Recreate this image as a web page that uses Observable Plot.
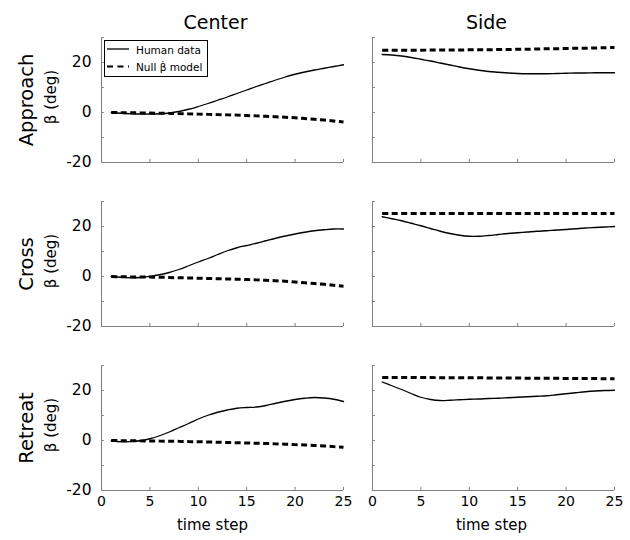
<!DOCTYPE html>
<html><head><meta charset="utf-8">
<script src="https://cdn.jsdelivr.net/npm/d3@7"></script>
<script src="https://cdn.jsdelivr.net/npm/@observablehq/plot@0.6"></script>
<style>
body{margin:0;background:#fff;}
#wrap{position:relative;width:630px;height:540px;font-family:"DejaVu Sans",sans-serif;}
#legend{position:absolute;left:104px;top:40px;}
</style></head>
<body><div id="wrap"></div>
<script>
// ---- data ----
const columns = ["Center", "Side"];
const rows = ["Approach", "Cross", "Retreat"];
const timeSteps = [1,2,3,4,5,6,7,8,9,10,11,12,13,14,15,16,17,18,19,20,21,22,23,24,25];
const xTickValues = [0,5,10,15,20,25];
const yTickValues = [-10,0,10,20,30];
const yLabelValues = [-20,0,20];
const xDomain = [0,25];
const yDomain = [-20,30];

const approachCenterHuman = [0,-0.3,-0.5,-0.6,-0.6,-0.5,-0.2,0.4,1.3,2.4,3.6,4.9,6.2,7.6,9.0,10.4,11.7,13.0,14.2,15.3,16.2,17.0,17.7,18.4,19.1];
const approachCenterNull  = [0,-0.05,-0.1,-0.15,-0.2,-0.3,-0.35,-0.45,-0.55,-0.65,-0.75,-0.85,-0.95,-1.05,-1.2,-1.35,-1.5,-1.7,-1.9,-2.1,-2.4,-2.7,-3.0,-3.4,-3.8];
const approachSideHuman   = [23.2,23.0,22.6,22.0,21.3,20.6,19.8,19.0,18.2,17.5,16.9,16.4,16.1,15.8,15.6,15.5,15.5,15.5,15.6,15.7,15.8,15.8,15.9,15.9,15.9];
const approachSideNull    = [24.9,24.9,24.9,24.9,24.9,25.0,25.0,25.0,25.0,25.1,25.1,25.1,25.2,25.2,25.3,25.3,25.4,25.5,25.5,25.6,25.7,25.7,25.8,25.9,26.0];
const crossCenterHuman    = [0,-0.3,-0.5,-0.4,0.1,0.7,1.6,2.8,4.3,5.8,7.2,8.8,10.3,11.5,12.4,13.3,14.3,15.3,16.2,17.0,17.7,18.3,18.7,19.0,19.0];
const crossCenterNull     = [0,-0.1,-0.15,-0.2,-0.25,-0.3,-0.4,-0.5,-0.6,-0.7,-0.8,-0.9,-1.0,-1.1,-1.2,-1.35,-1.5,-1.7,-1.9,-2.2,-2.5,-2.8,-3.1,-3.5,-3.9];
const crossSideHuman      = [23.9,23.1,22.3,21.3,20.3,19.2,18.1,17.2,16.5,16.1,16.1,16.4,16.8,17.2,17.5,17.8,18.1,18.3,18.6,18.8,19.1,19.4,19.6,19.8,20.0];
const crossSideNull       = [25.2,25.2,25.2,25.2,25.2,25.2,25.2,25.2,25.2,25.2,25.2,25.2,25.2,25.2,25.2,25.2,25.2,25.2,25.2,25.2,25.2,25.2,25.2,25.2,25.2];
const retreatCenterHuman  = [-0.1,-0.5,-0.4,-0.1,0.7,1.9,3.4,5.1,6.8,8.6,10.1,11.3,12.2,12.9,13.2,13.4,14.0,14.9,15.7,16.4,16.9,17.2,17.0,16.5,15.6];
const retreatCenterNull   = [0,-0.05,-0.1,-0.15,-0.2,-0.25,-0.3,-0.35,-0.45,-0.5,-0.6,-0.7,-0.8,-0.9,-1.0,-1.1,-1.2,-1.35,-1.5,-1.65,-1.8,-2.0,-2.2,-2.45,-2.7];
const retreatSideHuman    = [23.4,21.9,20.4,18.8,17.3,16.4,16.0,16.1,16.3,16.5,16.6,16.8,16.9,17.1,17.3,17.5,17.7,17.9,18.3,18.7,19.1,19.5,19.8,20.0,20.1];
const retreatSideNull     = [25.2,25.2,25.2,25.2,25.2,25.2,25.1,25.1,25.1,25.1,25.1,25.0,25.0,25.0,25.0,24.9,24.9,24.9,24.9,24.8,24.8,24.8,24.8,24.7,24.7];

const seriesTable = [
  ["Approach","Center",approachCenterHuman,approachCenterNull],
  ["Approach","Side",approachSideHuman,approachSideNull],
  ["Cross","Center",crossCenterHuman,crossCenterNull],
  ["Cross","Side",crossSideHuman,crossSideNull],
  ["Retreat","Center",retreatCenterHuman,retreatCenterNull],
  ["Retreat","Side",retreatSideHuman,retreatSideNull]
];
const humanData = [], nullData = [];
for (const [row, col, hum, nul] of seriesTable) {
  timeSteps.forEach((t, i) => {
    humanData.push({row, col, t, v: hum[i]});
    nullData.push({row, col, t, v: nul[i]});
  });
}

// ---- layout ----
const W = 630, H = 540, mL = 100, mR = 16, mT = 36.5, mB = 50;
const fxPad = 0.1086, fyPad = 0.2405;
const panelW = (W - mL - mR) / (2 - fxPad) * (1 - fxPad);
const panelH = (H - mT - mB) / (3 - fyPad) * (1 - fyPad);
const gray = "#808080";
const tickLen = 3;
const lastRow = rows[rows.length - 1];

const chart = Plot.plot({
  width: W, height: H,
  marginLeft: mL, marginRight: mR, marginTop: mT, marginBottom: mB,
  style: {fontFamily: "DejaVu Sans, sans-serif", fontSize: "14px", color: "#000", background: "#fff", overflow: "visible"},
  x: {domain: xDomain},
  y: {domain: yDomain},
  fx: {domain: columns, paddingInner: fxPad, paddingOuter: 0, axis: null},
  fy: {domain: rows, paddingInner: fyPad, paddingOuter: 0, axis: null},
  marks: [
    Plot.ruleX([xDomain[0]], {x: d => d, stroke: gray, strokeWidth: 1}),
    Plot.ruleY([yDomain[0]], {y: d => d, stroke: gray, strokeWidth: 1}),
    Plot.tickX(xTickValues, {x: d => d, stroke: gray, insetTop: panelH - tickLen}),
    Plot.tickY(yTickValues, {y: d => d, stroke: gray, insetRight: panelW - tickLen}),
    Plot.axisY({ticks: yLabelValues, tickSize: 0, tickPadding: 10, label: null, fontSize: 15.5,
      tickFormat: d => String(d)}),
    Plot.axisX({ticks: xTickValues, tickSize: 0, tickPadding: 6, label: null, fontSize: 14,
      tickFormat: d => String(d)}),
    Plot.line(nullData, {x: "t", y: "v", fx: "col", fy: "row", stroke: "#000", strokeWidth: 3,
      strokeDasharray: "6,3.5", strokeLinecap: "butt", curve: "catmull-rom"}),
    Plot.line(humanData, {x: "t", y: "v", fx: "col", fy: "row", stroke: "#000", strokeWidth: 1.3,
      curve: "catmull-rom"}),
    // column titles
    Plot.text(columns, {fx: d => d, fy: () => rows[0], text: d => d, frameAnchor: "top",
      textAnchor: "middle", lineAnchor: "bottom", dy: -9, dx: -7, fontSize: 19}),
    // row titles
    Plot.text(rows, {fx: () => columns[0], fy: d => d, text: d => d, frameAnchor: "left",
      textAnchor: "middle", rotate: -90, lineAnchor: "bottom", dx: -69, fontSize: 19.5}),
    Plot.text(rows, {fx: () => columns[0], fy: d => d, text: () => "β (deg)", frameAnchor: "left",
      textAnchor: "middle", rotate: -90, lineAnchor: "bottom", dx: -46, dy: -3, fontSize: 15}),
    // x axis titles
    Plot.text([columns[0]], {fx: d => d, fy: () => lastRow, text: () => "time step",
      frameAnchor: "bottom", textAnchor: "middle", lineAnchor: "middle", dy: 35, dx: -10, fontSize: 15}),
    Plot.text([columns[1]], {fx: d => d, fy: () => lastRow, text: () => "time step",
      frameAnchor: "bottom", textAnchor: "middle", lineAnchor: "middle", dy: 35, dx: -2, fontSize: 15})
  ]
});
const wrap = document.getElementById("wrap");
wrap.appendChild(chart);

// ---- legend ----
const legendItems = ["Human data", "Null β\u0307 model"];
const ns = "http://www.w3.org/2000/svg";
const lg = document.createElementNS(ns, "svg");
lg.setAttribute("id", "legend");
lg.setAttribute("width", 105);
lg.setAttribute("height", 38);
lg.innerHTML = `
  <rect x="0.5" y="0.5" width="103" height="36" fill="#fff" stroke="#000" stroke-width="1"/>
  <line x1="3" x2="25" y1="9" y2="9" stroke="#000" stroke-width="1.3"/>
  <line x1="3" x2="25" y1="26.5" y2="26.5" stroke="#000" stroke-width="2" stroke-dasharray="6,4.5"/>
  <text x="32" y="14" font-family="DejaVu Sans" font-size="10.5">${legendItems[0]}</text>
  <text x="32" y="31" font-family="DejaVu Sans" font-size="10.5">${legendItems[1]}</text>`;
wrap.appendChild(lg);
</script>
</body></html>
